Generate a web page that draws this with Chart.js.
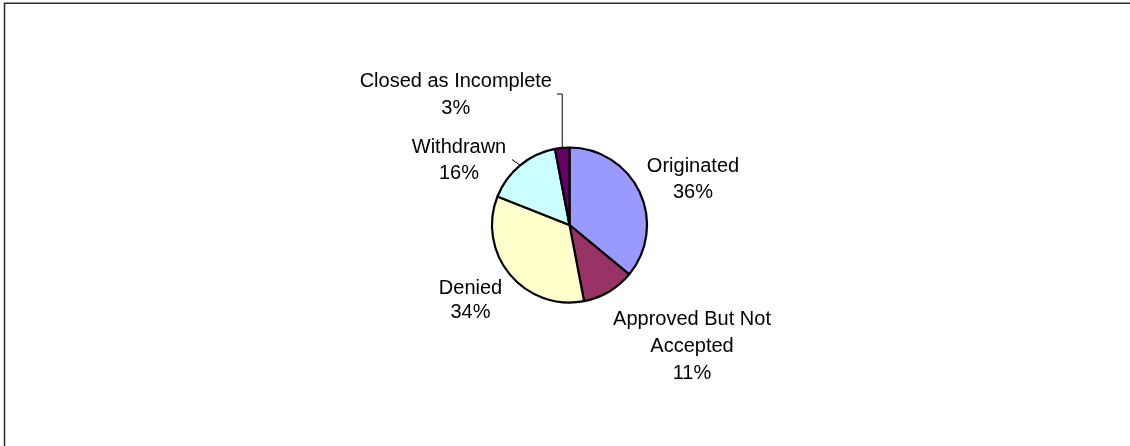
<!DOCTYPE html>
<html>
<head>
<meta charset="utf-8">
<title>Application Outcomes</title>
<script src="https://cdn.jsdelivr.net/npm/chart.js@4/dist/chart.umd.min.js"></script>
<style>
    html, body { margin: 0; padding: 0; background: #fff; }
    canvas { display: block; }
</style>
</head>
<body>
<canvas id="outcomeChart" width="1130" height="446"></canvas>
<script>
// slice data, clockwise from 12 o'clock
const categories = ['Originated', 'Approved But Not Accepted', 'Denied', 'Withdrawn', 'Closed as Incomplete'];
const shares = [36, 11, 34, 16, 3];
const sliceColors = ['#9999FF', '#993366', '#FFFFCC', '#CCFFFF', '#660066'];

// how each category name is broken into lines
const labelLines = [
    ['Originated'],
    ['Approved But Not', 'Accepted'],
    ['Denied'],
    ['Withdrawn'],
    ['Closed as Incomplete']
];

// label placement relative to the pie centre: [x of text centre, first baseline, line step]
const labelLayout = [
    [123.5, -53.3, 26],
    [122.5, 99.5, 27.3],
    [-99, 69, 23.5],
    [-110.5, -72.5, 26.3],
    [-113.7, -138.3, 27.3]
];

// leader lines: end point (relative to pie centre) plus how the line bends there
const leaders = {
    3: { to: [-57.5, -65.5], elbow: false },
    4: { to: [-12.5, -131], elbow: true }
};

const total = shares.reduce((a, b) => a + b, 0);

// frame lines on the top and left edges
const framePlugin = {
    id: 'frame',
    beforeDraw(chart) {
        const ctx = chart.ctx;
        ctx.save();
        ctx.strokeStyle = '#2a2a2a';
        ctx.lineWidth = 1.5;
        ctx.beginPath();
        ctx.moveTo(4.5, chart.height);
        ctx.lineTo(4.5, 3.2);
        ctx.lineTo(chart.width, 3.2);
        ctx.stroke();
        ctx.restore();
    }
};

// outside labels with the name and percentage of each slice
const sliceLabels = {
    id: 'sliceLabels',
    afterDatasetsDraw(chart) {
        const ctx = chart.ctx;
        const arcs = chart.getDatasetMeta(0).data;
        ctx.save();
        ctx.font = '20px "Liberation Sans", Arial, sans-serif';
        ctx.fillStyle = '#000';
        ctx.textAlign = 'center';
        ctx.textBaseline = 'alphabetic';

        arcs.forEach((arc, i) => {
            const cx = arc.x, cy = arc.y;
            const [dx, dy, step] = labelLayout[i];
            const lines = labelLines[i].concat(Math.round(shares[i] / total * 100) + '%');
            lines.forEach((line, k) => {
                ctx.fillText(line, cx + dx, cy + dy + k * step);
            });

            const leader = leaders[i];
            if (leader) {
                const mid = (arc.startAngle + arc.endAngle) / 2;
                const ex = cx + Math.cos(mid) * arc.outerRadius;
                const ey = cy + Math.sin(mid) * arc.outerRadius;
                const tx = cx + leader.to[0];
                const ty = cy + leader.to[1];
                ctx.strokeStyle = '#000';
                ctx.lineWidth = 1;
                ctx.beginPath();
                ctx.moveTo(ex, ey);
                if (leader.elbow) {
                    ctx.lineTo(ex, ty);
                }
                ctx.lineTo(tx, ty);
                ctx.stroke();
            }
        });
        ctx.restore();
    }
};

new Chart(document.getElementById('outcomeChart'), {
    type: 'pie',
    data: {
        labels: categories,
        datasets: [{
            data: shares,
            backgroundColor: sliceColors,
            borderColor: '#000',
            borderWidth: 2.2
        }]
    },
    options: {
        responsive: false,
        animation: false,
        radius: 77.5,
        layout: {
            padding: { left: 9, right: 0, top: 4, bottom: 0 }
        },
        plugins: {
            legend: { display: false },
            tooltip: { enabled: false }
        }
    },
    plugins: [framePlugin, sliceLabels]
});
</script>
</body>
</html>
